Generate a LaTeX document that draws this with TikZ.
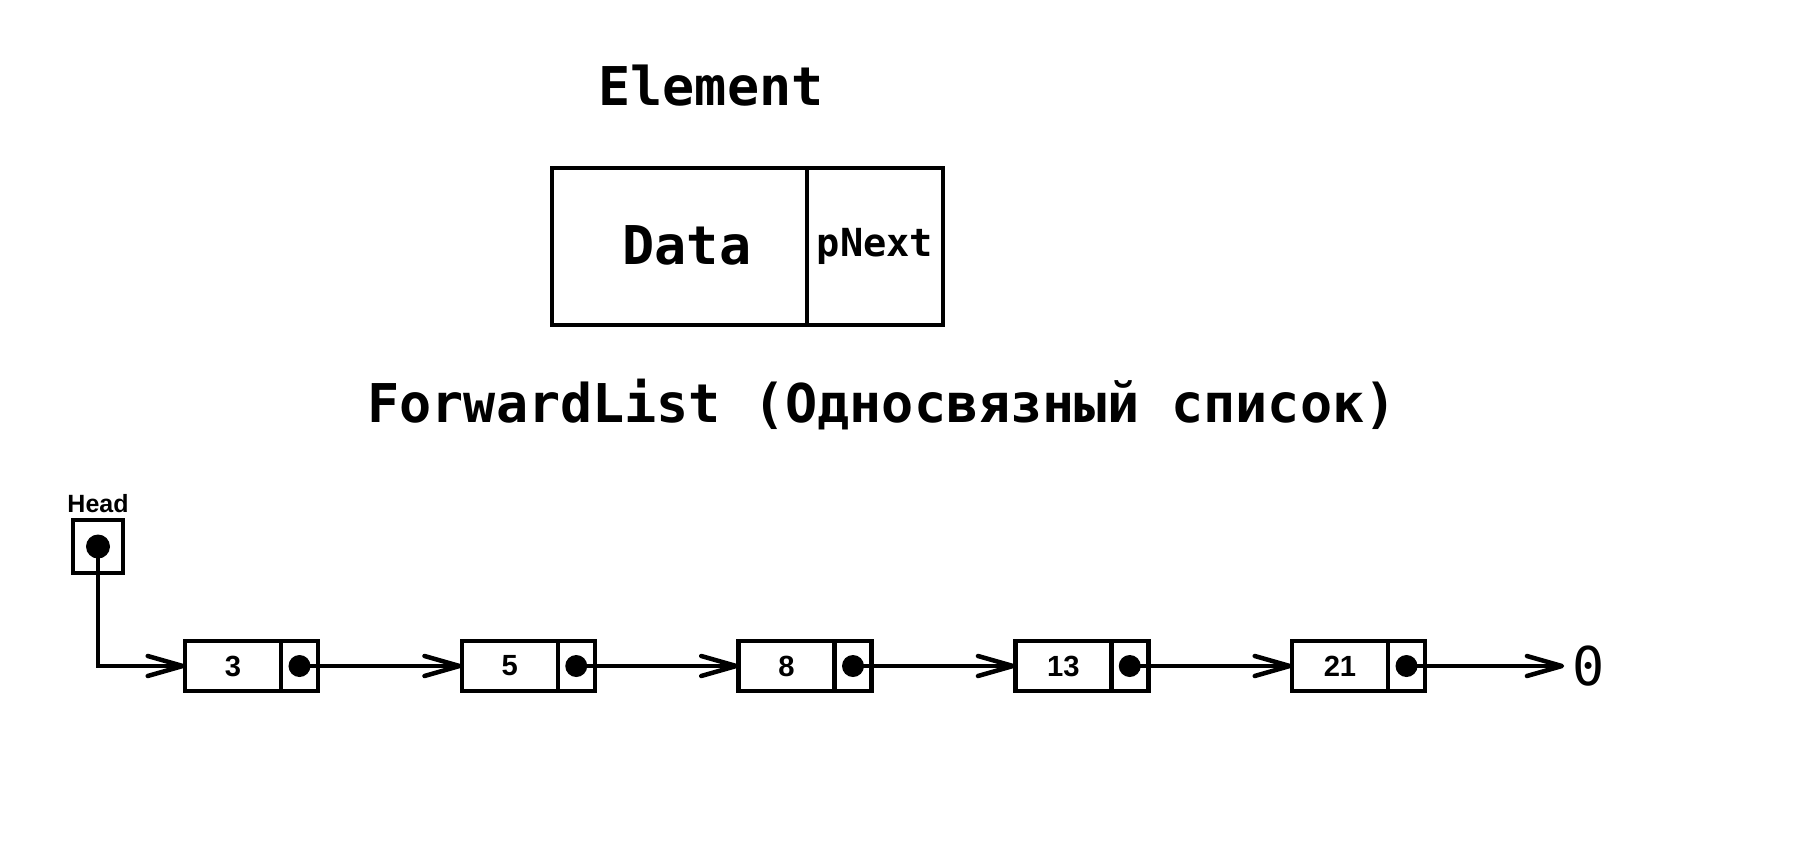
\documentclass[tikz,border=0pt]{standalone}
\usepackage{fontspec}
\newfontfamily\codefont{DejaVu Sans Mono}
\newfontfamily\labelfont{Liberation Sans}
\usetikzlibrary{positioning,arrows.meta}

\tikzset{
  box/.style={draw, line width=0.45mm, inner sep=0pt, outer sep=0pt},
  datacell/.style={box, minimum width=9.6mm, minimum height=5mm,
    font=\labelfont\bfseries\fontsize{8.3}{9}\selectfont},
  ptrcell/.style={box, minimum width=3.7mm, minimum height=5mm},
  link/.style={line width=0.45mm, line cap=round,
    -{Straight Barb[length=3.5mm,width=2mm,round]}},
  heading/.style={font=\codefont\bfseries\fontsize{15.2}{16}\selectfont, inner sep=0pt}
}

\begin{document}
\begin{tikzpicture}[x=0.1mm, y=-0.1mm]
    \useasboundingbox (0,0) rectangle (1804,850);

    \def \ylist {666}
    \def \gap {276.75}
    % one element
    \node[heading, anchor=base] (elemtitle) at (711,105) {Element};
    \node[box, minimum width=25.5mm, minimum height=15.7mm,
      font=\codefont\bfseries\fontsize{15.2}{16}\selectfont] (data) at (679.5,246.5)
      {\hspace{1.5mm}\raisebox{0.3mm}{Data}};
    \node[box, minimum width=13.6mm, minimum height=15.7mm, right=0pt of data,
      font=\codefont\bfseries\fontsize{11}{12}\selectfont] (pnext) {pNext};

    % the list
    \node[heading, anchor=base] (listtitle) at (882,422) {ForwardList (Односвязный список)};
    \node[box, minimum width=5mm, minimum height=5.3mm] (head) at (98,546.5) {};
    \fill (head.center) circle (1.2mm);
    \node[font=\labelfont\bfseries\fontsize{7.1}{8}\selectfont, inner sep=0pt,
      above=0.7mm of head] (headlbl) {Head};
    \foreach \v [count=\i] in {3,5,8,13,21}
    {
      \node[datacell, anchor=west] (d\i) at ({185+\gap*(\i-1)}, \ylist) {\v};
      \node[ptrcell, right=0pt of d\i] (p\i) {};
      \fill (p\i.center) circle (1.1mm);
    }
    \node[font=\codefont\fontsize{15.2}{16}\selectfont, inner sep=0.8mm] (null) at (1589,\ylist) {0};

    % draw the links
    \draw[link] (head.center) |- (d1.west);
    \foreach \i [evaluate=\i as \j using int(\i+1)] in {1,...,4}
      \draw[link] (p\i.center) -- (d\j.west);
    \draw[link] (p5.center) -- (null.west);
\end{tikzpicture}
\end{document}
